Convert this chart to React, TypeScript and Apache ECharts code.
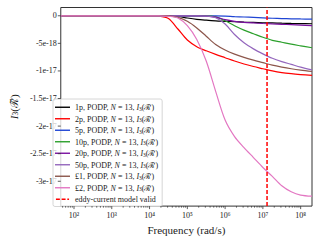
import React, { useEffect, useRef } from 'react';
import * as echarts from 'echarts';

// log10 of frequency (rad/s)
const freqExp = [1.65, 4.0, 4.25, 4.5, 4.75, 5.0, 5.25, 5.5, 5.75, 6.0, 6.25, 6.5, 6.75, 7.0, 7.25, 7.5, 7.75, 8.0, 8.3];
// I3 values in units of 1e-18
const v1p = [0, 0, 0, 0, -0.1, -0.4, -0.65, -0.8, -0.92, -1.0, -1.08, -1.15, -1.2, -1.26, -1.3, -1.35, -1.39, -1.42, -1.45];
const v2p = [0, 0, -0.05, -0.5, -2.4, -4.4, -5.6, -6.35, -7.0, -7.6, -8.2, -8.75, -9.2, -9.6, -10.0, -10.3, -10.5, -10.65, -10.8];
const v5p = [0, 0, 0, 0, 0, 0, 0, 0, 0, -0.05, -0.15, -0.22, -0.3, -0.38, -0.45, -0.5, -0.55, -0.58, -0.6];
const v10p = [0, 0, 0, 0, 0, 0, 0, 0, -0.2, -0.9, -1.8, -2.6, -3.25, -3.9, -4.45, -4.8, -5.15, -5.45, -5.8];
const v20p = [0, 0, 0, 0, 0, 0, 0, -0.05, -0.25, -0.7, -1.0, -1.18, -1.3, -1.4, -1.48, -1.55, -1.62, -1.7, -1.8];
const v50p = [0, 0, 0, 0, 0, 0, 0, -0.05, -0.35, -1.5, -3.4, -4.9, -6.0, -6.9, -7.7, -8.3, -8.8, -9.3, -9.8];
const vL1 = [0, 0, 0, 0, -0.3, -1.0, -2.2, -3.7, -5.2, -6.2, -6.95, -7.55, -8.05, -8.5, -8.95, -9.3, -9.6, -9.85, -10.1];
const vL2 = [0, 0, 0, -0.1, -0.4, -1.8, -4.3, -8.2, -13.7, -18.9, -21.9, -23.9, -25.7, -27.5, -29.1, -30.8, -31.9, -32.5, -32.7];

const coins = ['1p', '2p', '5p', '10p', '20p', '50p', '£1', '£2'];
const seriesValues = [v1p, v2p, v5p, v10p, v20p, v50p, vL1, vL2];
const colors = ['#000000', '#ff0000', '#1f45d4', '#2ca02c', '#7a0fa0', '#9467bd', '#8c564b', '#e377c2'];

const eddyExp = 7.11;
const eddyName = 'eddy-current model valid';

const xMin = 1.65;
const xMax = 8.3;
const yMin = -34.5;
const yMax = 1.5;
const yTicks = [0, -5, -10, -15, -20, -25, -30];
const xMajor = [2, 3, 4, 5, 6, 7, 8];
const SUP = ['⁰', '¹', '²', '³', '⁴', '⁵', '⁶', '⁷', '⁸', '⁹'];

const FONT = 'Liberation Serif';
const SOLID_ICON = 'path://M0,0H15V1.4H0Z';
const DASH_ICON = 'path://M0,0H4.5V1.6H0Z M6.5,0H11V1.6H6.5Z M13,0H15V1.6H13Z';

function seriesName(c: string) {
  return `${c}, PODP, N = 13, I3(ℛ̃)`;
}

export default function App() {
  const ref = useRef<HTMLDivElement>(null);
  useEffect(() => {
    if (!ref.current) return;
    const chart = echarts.init(ref.current, undefined, { renderer: 'svg' });

    const xMinor: number[][] = [];
    for (let n = 1; n <= 8; n++) {
      for (let k = 2; k <= 9; k++) {
        const e = n + Math.log10(k);
        if (e > xMin && e < xMax) xMinor.push([e, 1.5]);
      }
    }
    const xTickData = xMajor.map((e) => [e, 3]).concat(xMinor);

    const lineSeries = coins.map((c, i) => ({
      name: seriesName(c),
      type: 'line',
      data: freqExp.map((e, j) => [e, seriesValues[i][j]]),
      smooth: 0.3,
      symbol: 'none',
      showSymbol: false,
      lineStyle: { color: colors[i], width: 1.2 },
      itemStyle: { color: colors[i] },
      z: 3,
    }));

    const legendData = coins
      .map((c, i) => ({ name: seriesName(c), icon: SOLID_ICON, itemStyle: { color: colors[i] } }))
      .concat([{ name: eddyName, icon: DASH_ICON, itemStyle: { color: '#ff0000' } }]);

    const option: any = {
      animation: false,
      grid: {
        left: 49.5,
        right: 8,
        top: 7.5,
        bottom: 31,
        show: true,
        borderColor: '#333',
        borderWidth: 1,
      },
      xAxis: {
        type: 'value',
        min: xMin,
        max: xMax,
        interval: 0.05,
        axisLine: { show: false },
        axisTick: { show: false },
        splitLine: { show: false },
        axisLabel: {
          margin: 5,
          showMinLabel: false,
          showMaxLabel: false,
          fontFamily: FONT,
          fontSize: 8,
          color: '#222',
          formatter: (v: number) => {
            if (Math.abs(v - Math.round(v)) > 1e-6) return '';
            return `10${SUP[Math.round(v)]}`;
          },
        },
        name: 'Frequency (rad/s)',
        nameLocation: 'middle',
        nameGap: 13,
        nameTextStyle: { fontFamily: FONT, fontSize: 11, color: '#222', verticalAlign: 'top' },
      },
      yAxis: {
        type: 'value',
        min: yMin,
        max: yMax,
        interval: 0.5,
        axisLine: { show: false },
        axisTick: { show: false },
        splitLine: { show: false },
        axisLabel: {
          margin: 4,
          showMinLabel: false,
          showMaxLabel: false,
          fontFamily: FONT,
          fontSize: 8,
          color: '#222',
          formatter: (v: number) => {
            const r = Math.round(v);
            if (Math.abs(v - r) > 1e-6 || r % 5 !== 0) return '';
            if (r === 0) return '0';
            if (Math.abs(r) >= 10) return `${r / 10}e-17`;
            return `${r}e-18`;
          },
        },
        name: '{i|I}{sub|3}{t|(ℛ̃)}',
        nameLocation: 'middle',
        nameRotate: 90,
        nameGap: 31,
        nameTextStyle: {
          rich: {
            i: { fontFamily: FONT, fontStyle: 'italic', fontSize: 11, color: '#222', verticalAlign: 'bottom', lineHeight: 13 },
            sub: { fontFamily: FONT, fontSize: 7.5, color: '#222', verticalAlign: 'bottom', lineHeight: 10 },
            t: { fontFamily: FONT, fontSize: 11, color: '#222', verticalAlign: 'bottom', lineHeight: 13 },
          },
        },
      },
      legend: {
        orient: 'vertical',
        left: 53,
        top: 99,
        padding: [4, 4, 3, 2],
        itemWidth: 15,
        itemHeight: 1.4,
        itemGap: 3,
        backgroundColor: 'rgba(255,255,255,0.8)',
        borderColor: '#cccccc',
        borderWidth: 0.8,
        borderRadius: 2,
        data: legendData,
        formatter: (name: string) => {
          if (name === eddyName) return `{t|${name}}`;
          const c = name.split(',')[0];
          return `{t|${c}, PODP, }{i|N}{t| = 13, }{i|I}{sub|3}{t|(ℛ̃)}`;
        },
        textStyle: {
          fontFamily: FONT,
          fontSize: 8,
          color: '#222',
          lineHeight: 8.5,
          rich: {
            t: { fontFamily: FONT, fontSize: 8, color: '#222', verticalAlign: 'bottom', lineHeight: 8.5 },
            i: { fontFamily: FONT, fontStyle: 'italic', fontSize: 8, color: '#222', verticalAlign: 'bottom', lineHeight: 8.5 },
            sub: { fontFamily: FONT, fontSize: 5.5, color: '#222', verticalAlign: 'bottom', lineHeight: 6.5 },
          },
        },
      },
      series: [
        ...lineSeries,
        {
          name: eddyName,
          type: 'line',
          data: [[eddyExp, yMin], [eddyExp, yMax]],
          symbol: 'none',
          showSymbol: false,
          lineStyle: { color: '#ff0000', width: 1.5, type: [4, 2] },
          itemStyle: { color: '#ff0000' },
          z: 4,
        },
        {
          type: 'custom',
          name: 'xticks',
          clip: false,
          silent: true,
          data: xTickData,
          renderItem: (params: any, api: any) => {
            const p = api.coord([api.value(0), yMin]);
            const len = api.value(1);
            return {
              type: 'line',
              shape: { x1: p[0], y1: p[1], x2: p[0], y2: p[1] + len },
              style: { stroke: '#333', lineWidth: 0.8 },
            };
          },
          z: 5,
        },
        {
          type: 'custom',
          name: 'yticks',
          clip: false,
          silent: true,
          data: yTicks.map((v) => [xMin, v]),
          renderItem: (params: any, api: any) => {
            const p = api.coord([xMin, api.value(1)]);
            return {
              type: 'line',
              shape: { x1: p[0] - 3, y1: p[1], x2: p[0], y2: p[1] },
              style: { stroke: '#333', lineWidth: 0.8 },
            };
          },
          z: 5,
        },
      ],
    };
    chart.setOption(option);
    return () => chart.dispose();
  }, []);
  return <div ref={ref} style={{ position: 'fixed', left: 0, top: 0, width: 320, height: 240, background: '#fff' }} />;
}
